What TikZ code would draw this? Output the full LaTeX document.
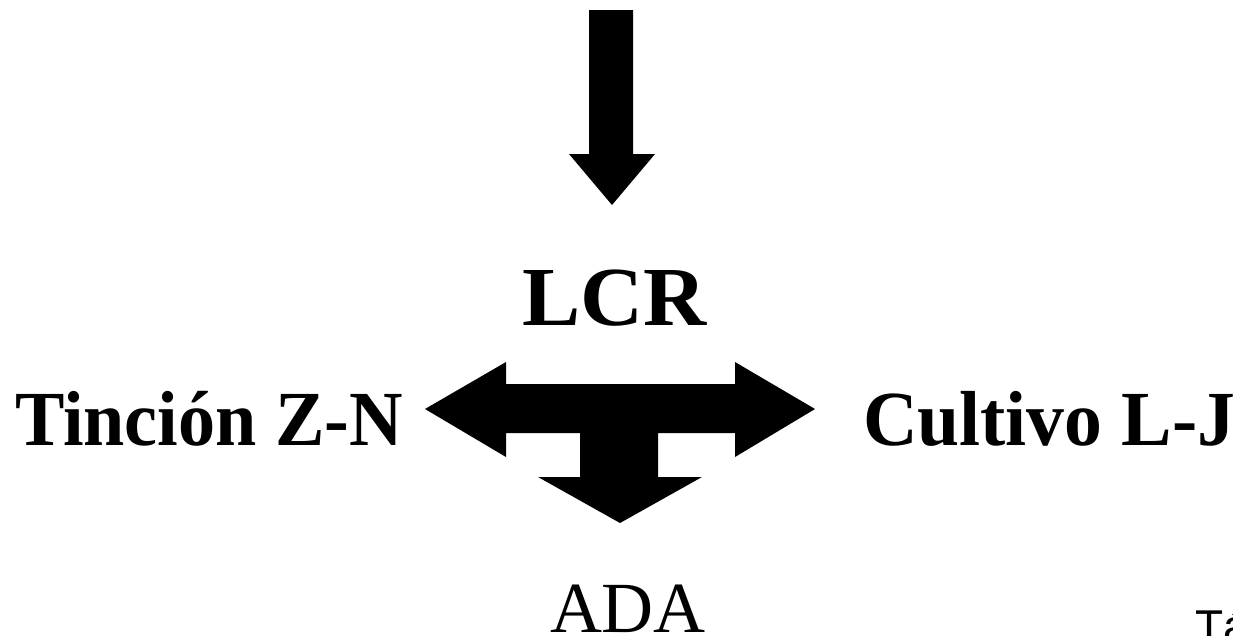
\documentclass[tikz,border=0pt]{standalone}
\usepackage{fontspec}
\setmainfont{Liberation Serif}
\newfontfamily\sansf{Liberation Sans}
\begin{document}
\begin{tikzpicture}[x=1pt,y=-1pt,
  lbl/.style={inner sep=0pt,outer sep=0pt,anchor=base west},
  arrowshape/.style={fill=black,draw=none}]
\useasboundingbox (0,0) rectangle (1233,635);
\clip (0,0) rectangle (1233,635);
\fill[white] (0,0) rectangle (1233,635);
% top down arrow
\path[arrowshape] (589,10) -- (633,10) -- (633,154) -- (655,154) -- (612,205) -- (569,154) -- (589,154) -- cycle;
% three-way arrow
\path[arrowshape] (425,409) -- (506,362) -- (506,384) -- (735,384) -- (735,362) -- (815,409)
  -- (735,457) -- (735,433) -- (658,433) -- (658,477) -- (702,477) -- (620,523)
  -- (538,477) -- (580,477) -- (580,433) -- (506,433) -- (506,457) -- cycle;
\node[lbl] (lcr) at (522,325) {\fontsize{84}{84}\selectfont\bfseries\scalebox{1.04}[1]{LCR}};
\node[lbl] (tin) at (15,445) {\fontsize{78}{78}\selectfont\bfseries\scalebox{0.95}[1]{Tinción Z-N}};
\node[lbl] (cul) at (863,445) {\fontsize{78}{78}\selectfont\bfseries\scalebox{0.97}[1]{Cultivo L-J}};
\node[lbl] (ada) at (550,632) {\fontsize{72}{72}\selectfont ADA};
\node[lbl] (ta) at (1195,642) {\fontsize{46}{46}\selectfont\sansf Tá};
\end{tikzpicture}
\end{document}
